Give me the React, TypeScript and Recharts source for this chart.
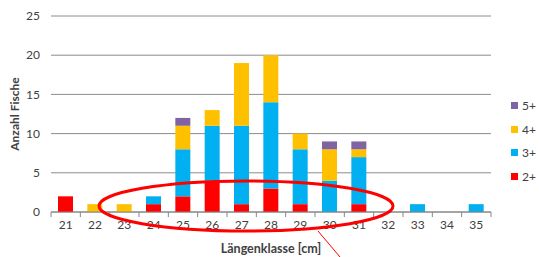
import React from "react";
import { BarChart, Bar, XAxis, YAxis, CartesianGrid, Label } from "recharts";

const categories = ["21", "22", "23", "24", "25", "26", "27", "28", "29", "30", "31", "32", "33", "34", "35"];
const age2 = [2, 0, 0, 1, 2, 4, 1, 3, 1, 0, 1, 0, 0, 0, 0];
const age3 = [0, 0, 0, 1, 6, 7, 10, 11, 7, 4, 6, 0, 1, 0, 1];
const age4 = [0, 1, 1, 0, 3, 2, 8, 6, 2, 4, 1, 0, 0, 0, 0];
const age5 = [0, 0, 0, 0, 1, 0, 0, 0, 0, 1, 1, 0, 0, 0, 0];
const yTicks = [0, 5, 10, 15, 20, 25];

const series = [
  { key: "a2", name: "2+", color: "#FF0000", values: age2 },
  { key: "a3", name: "3+", color: "#00B0F0", values: age3 },
  { key: "a4", name: "4+", color: "#FFC000", values: age4 },
  { key: "a5", name: "5+", color: "#8064A2", values: age5 },
];

const data = categories.map((c, i) => {
  const row: Record<string, string | number> = { cat: c };
  series.forEach((s) => {
    row[s.key] = s.values[i];
  });
  return row;
});

const FONT = "Lato, 'Open Sans', sans-serif";

const XTick = (props: any) => {
  const { x, y, payload, index } = props;
  const band = 440 / categories.length;
  const isLast = index === categories.length - 1;
  return (
    <g>
      <line x1={x - band / 2} y1={y - 8} x2={x - band / 2} y2={y - 3} stroke="#868686" />
      {isLast && <line x1={x + band / 2} y1={y - 8} x2={x + band / 2} y2={y - 3} stroke="#868686" />}
      <text x={x} y={y + 9} textAnchor="middle" fill="#404040" fontSize={12} fontFamily={FONT}>
        {payload.value}
      </text>
    </g>
  );
};

export default function App() {
  return (
    <div style={{ position: "absolute", left: 0, top: 0, width: 539, height: 257, background: "#fff" }}>
      <BarChart
        width={539}
        height={257}
        data={data}
        margin={{ top: 16, right: 48, bottom: 0, left: 0 }}
        barSize={15}
      >
        <CartesianGrid vertical={false} stroke="#8c8c8c" strokeWidth={1} />
        <XAxis
          dataKey="cat"
          axisLine={{ stroke: "#868686" }}
          tickLine={false}
          interval={0}
          height={45}
          tick={<XTick />}
        >
          <Label
            value="Längenklasse [cm]"
            position="insideBottom"
            offset={4}
            style={{ fontWeight: "bold", fontSize: 12.5, fill: "#404040", fontFamily: FONT }}
          />
        </XAxis>
        <YAxis
          width={51}
          domain={[0, 25]}
          ticks={yTicks}
          axisLine={false}
          tickLine={false}
          tickSize={0}
          tickMargin={11}
          tick={{ fontSize: 12, fill: "#404040", fontFamily: FONT }}
        >
          <Label
            value="Anzahl Fische"
            angle={-90}
            position="insideLeft"
            offset={15}
            style={{ fontWeight: "bold", fontSize: 12, fill: "#404040", fontFamily: FONT, textAnchor: "middle" }}
          />
        </YAxis>
        {series.map((s) => (
          <Bar key={s.key} dataKey={s.key} name={s.name} stackId="a" fill={s.color} isAnimationActive={false} />
        ))}
      </BarChart>
      <svg
        width={539}
        height={257}
        style={{ position: "absolute", left: 0, top: 0, pointerEvents: "none" }}
      >
        <ellipse cx={246} cy={206} rx={147} ry={25} fill="none" stroke="#FF0000" strokeWidth={3} />
        <line x1={318} y1={231} x2={340} y2={257} stroke="#FF0000" strokeWidth={1} />
      </svg>
      <div style={{ position: "absolute", left: 511, top: 94, fontFamily: FONT, fontSize: 12, color: "#404040" }}>
        {[...series].reverse().map((s) => (
          <div key={s.key} style={{ display: "flex", alignItems: "center", height: 23.5 }}>
            <span style={{ display: "inline-block", width: 7, height: 7, background: s.color, marginRight: 4 }} />
            <span>{s.name}</span>
          </div>
        ))}
      </div>
    </div>
  );
}
